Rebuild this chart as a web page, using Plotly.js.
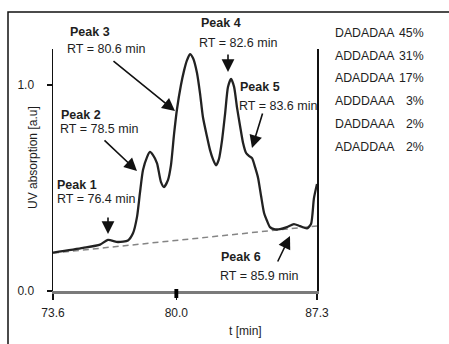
<!DOCTYPE html>
<html>
<head>
<meta charset="utf-8">
<script src="https://cdn.plot.ly/plotly-3.0.1.min.js"></script>
<style>html,body{margin:0;padding:0;background:#fff;}#chart{width:449px;height:344px;}</style>
</head>
<body>
<div id="chart"></div>
<script>
// Chromatogram (retention time in minutes, UV absorption in a.u.)
const timeMin = [73.6, 75.16, 76.04, 76.45, 76.97, 77.49, 77.75, 77.96, 78.11, 78.27, 78.48, 78.63, 78.79, 79.0, 79.2, 79.36, 79.57, 79.72, 79.88, 80.03, 80.24, 80.40, 80.55, 80.71, 80.87, 81.07, 81.23, 81.38, 81.59, 81.75, 81.9, 82.06, 82.21, 82.37, 82.53, 82.68, 82.84, 83.0, 83.15, 83.31, 83.46, 83.62, 83.78, 83.93, 84.09, 84.24, 84.40, 84.55, 84.71, 84.86, 85.07, 85.38, 85.74, 86.1, 86.42, 86.78, 86.99, 87.14, 87.3];
const uvAbs = [0.186, 0.209, 0.225, 0.248, 0.238, 0.245, 0.28, 0.36, 0.475, 0.587, 0.65, 0.675, 0.66, 0.62, 0.53, 0.505, 0.54, 0.61, 0.76, 0.88, 1.0, 1.07, 1.12, 1.15, 1.13, 1.06, 0.96, 0.845, 0.75, 0.684, 0.64, 0.61, 0.64, 0.73, 0.86, 0.99, 1.03, 0.99, 0.89, 0.80, 0.72, 0.67, 0.655, 0.645, 0.60, 0.55, 0.46, 0.38, 0.34, 0.31, 0.30, 0.30, 0.31, 0.325, 0.315, 0.304, 0.325, 0.45, 0.52];

// Baseline (dashed)
const baseTime = [73.6, 87.3];
const baseAbs = [0.184, 0.316];

// Axis ticks
const xTickVals = [73.6, 80.0, 87.3];
const xTickText = ['73.6', '80.0', '87.3'];
const yTickVals = [0, 1];
const yTickText = ['0.0', '1.0'];

// Peak labels
const peakNames = ['Peak 1', 'Peak 2', 'Peak 3', 'Peak 4', 'Peak 5', 'Peak 6'];
const peakRT = ['RT = 76.4 min', 'RT = 78.5 min', 'RT = 80.6 min', 'RT = 82.6 min', 'RT = 83.6 min', 'RT = 85.9 min'];

// Composition list
const seqNames = ['DADADAA', 'ADDADAA', 'ADADDAA', 'ADDDAAA', 'DADDAAA', 'ADADDAA'];
const seqPct = ['45%', '31%', '17%', '3%', '2%', '2%'];

// ---- layout helpers (pixel -> paper) ----
const W = 449, H = 344;
const L = 53, R = 317, T = 49, B = 291;
const px = x => (x - L) / (R - L);
const py = y => (B - y) / (B - T);

const FONT = 'Liberation Sans, Arial, sans-serif';
const TXT = '#1e1e1e';

const annotations = [];
function txt(x, y, text, opts) {
  annotations.push(Object.assign({
    xref: 'paper', yref: 'paper', x: px(x), y: py(y), text: text,
    showarrow: false, xanchor: 'left', yanchor: 'middle',
    font: {family: FONT, size: 12.5, color: TXT}
  }, opts || {}));
}
function arrow(hx, hy, tx, ty) {
  annotations.push({
    xref: 'paper', yref: 'paper', x: px(hx), y: py(hy), text: '',
    showarrow: true, ax: tx - hx, ay: ty - hy,
    arrowhead: 2, arrowsize: 1.6, arrowwidth: 1.6, arrowcolor: '#111', standoff: 0
  });
}

// peak text positions (pixel)
const peakPos = [[55, 185, 55, 199], [59, 115, 58, 129], [68, 32, 65, 49], [199, 23, 197, 43], [238, 87, 237, 106], [219, 257, 218, 276]];
peakNames.forEach((n, i) => {
  const p = peakPos[i];
  txt(p[0], p[1], '<b>' + n + '</b>');
  txt(p[2], p[3], peakRT[i]);
});

// arrows: head, tail
arrow(108, 234, 108, 216);
arrow(137, 171, 103, 139);
arrow(175, 111, 112, 60);
arrow(228, 72, 228, 53);
arrow(252, 148, 263, 112);
arrow(290, 236, 277, 263);

// composition list
seqNames.forEach((n, i) => {
  const y = 33 + i * 22.7;
  txt(333, y, n, {font: {family: FONT, size: 12.3, color: TXT}});
  txt(426, y, seqPct[i], {xanchor: 'right', font: {family: FONT, size: 12.3, color: TXT}});
});

// axis titles
txt(33, 158, 'UV absorption [a.u]', {xanchor: 'center', textangle: -90, font: {family: FONT, size: 12, color: TXT}});
txt(245, 331, 't [min]', {xanchor: 'center', font: {family: FONT, size: 12, color: TXT}});

const traces = [
  {x: baseTime, y: baseAbs, mode: 'lines', line: {color: '#858585', width: 1.5, dash: '6px,4px'}, hoverinfo: 'skip'},
  {x: timeMin, y: uvAbs, mode: 'lines', line: {color: '#222', width: 2.3, shape: 'spline', smoothing: 0.6}},
];

const layout = {
  width: W, height: H,
  margin: {l: L, r: W - R, t: T, b: H - B},
  paper_bgcolor: '#fff', plot_bgcolor: '#fff',
  showlegend: false,
  font: {family: FONT, size: 12, color: TXT},
  xaxis: {
    range: [73.6, 87.3], tickvals: xTickVals, ticktext: xTickText,
    showgrid: false, zeroline: false, showline: true, linecolor: '#7a7a7a', linewidth: 2.5,
    ticks: 'outside', ticklen: 6, tickwidth: 1.5, tickcolor: '#111',
    ticklabelstandoff: 3, fixedrange: true
  },
  yaxis: {
    range: [0, 1.175], tickvals: yTickVals, ticktext: yTickText,
    showgrid: false, zeroline: false, showline: true, linecolor: '#111', linewidth: 1.5, mirror: true,
    ticks: 'outside', ticklen: 5, tickwidth: 1.5, tickcolor: '#111',
    ticklabelstandoff: 10, fixedrange: true
  },
  shapes: [
    // outer frame (left and top edges visible)
    {type: 'rect', xref: 'paper', yref: 'paper', x0: px(8), x1: px(452), y0: py(348), y1: py(12), line: {color: '#111', width: 1.5}, layer: 'below'},
    // small black marker at 80.0 on the x axis
    {type: 'rect', xref: 'x', yref: 'paper', x0: xTickVals[1] - 0.1, x1: xTickVals[1] + 0.1, y0: py(298), y1: py(289), fillcolor: '#000', line: {width: 0}}
  ],
  annotations: annotations
};

Plotly.newPlot('chart', traces, layout, {displayModeBar: false, staticPlot: true});
</script>
</body>
</html>
